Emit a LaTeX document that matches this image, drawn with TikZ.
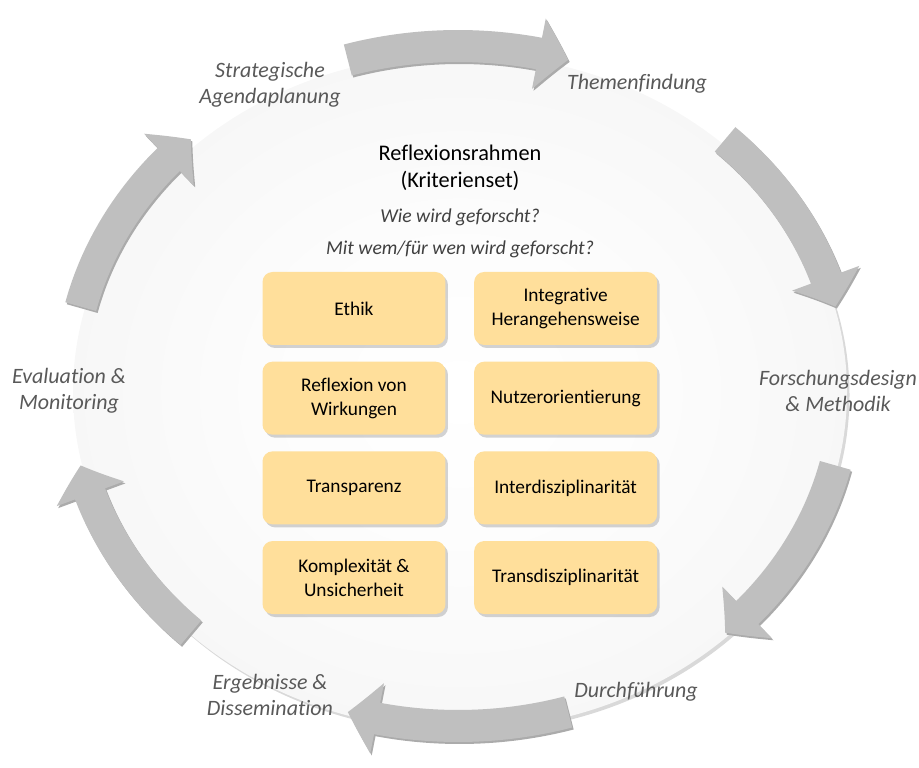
\documentclass[tikz,border=0pt]{standalone}
\usepackage{fontspec}
\setmainfont{Carlito}[Ligatures=NoCommon]
\usepackage{tikz}
\usepackage{xcolor}
\usetikzlibrary{arrows.meta}
\usetikzlibrary{bending}
\usetikzlibrary{positioning}
\usetikzlibrary{shadows}

\definecolor{critfill}{HTML}{FFDF9B}
\definecolor{ringgray}{HTML}{BFBFBF}
\definecolor{ringshade}{HTML}{ABABAB}
\definecolor{phasegray}{HTML}{595959}
\definecolor{askgray}{HTML}{404040}

\pgfdeclareradialshading{discfade}{\pgfpoint{0bp}{0bp}}{color(0bp)=(white); color(12bp)=(black!1); color(50bp)=(black!7)}

\begin{document}
\begin{tikzpicture}[x=0.02cm,y=0.02cm,
    critbox/.style={fill=critfill, rounded corners=0.2cm,
      minimum width=3.66cm, minimum height=1.46cm, inner sep=2pt,
      align=center, font=\fontsize{11}{13.6}\selectfont,
      drop shadow={opacity=0.35, shadow xshift=0.05cm, shadow yshift=-0.06cm}},
    phase/.style={text=phasegray, align=center,
      font=\fontsize{12.5}{14.5}\selectfont\itshape},
    ask/.style={text=askgray, font=\fontsize{11.2}{13}\selectfont\itshape},
    cyclearrow/.style={draw=ringgray, line width=0.64cm,
      -{Triangle[width=1.4cm, length=0.6cm, bend]}}]
  \useasboundingbox (0,0) rectangle (919,767);

  \coordinate (mid) at (460,375);
  \shade[shading=discfade,
    drop shadow={opacity=0.3, shadow xshift=0.05cm, shadow yshift=-0.06cm}]
    (mid) ellipse [x radius=387, y radius=338];

  \coordinate (hub) at (458,381);
  \foreach \a in {90,30,-30,-90,-150,150} {
    \draw[cyclearrow, draw=ringshade] ([shift={(1.5,-2)}]hub) ++(\a+16.5:388 and 340)
      arc[start angle=\a+16.5, end angle=\a-16.5, x radius=388, y radius=340];
    \draw[cyclearrow] (hub) ++(\a+16.5:388 and 340)
      arc[start angle=\a+16.5, end angle=\a-16.5, x radius=388, y radius=340];
  }

  \node (strat) [phase] at (270,682) {Strategische\\Agendaplanung};
  \node (themen) [phase] at (637,683) {Themenfindung};
  \node (design) [phase] at (838,376) {Forschungsdesign\\\& Methodik};
  \node (durch) [phase] at (636,75) {Durchführung};
  \node (ergeb) [phase] at (270,72) {Ergebnisse \&\\Dissemination};
  \node (evalu) [phase] at (69,376) {Evaluation \&\\Monitoring};

  \node (frame) [align=center, font=\fontsize{12.7}{15.4}\selectfont]
    at (460,599) {Reflexionsrahmen\\(Kriterienset)};
  \node (how) [ask] at (460,550) {Wie wird geforscht?};
  \node (whom) [ask] at (460,518) {Mit wem/für wen wird geforscht?};

  \node (ethik) [critbox] at (354,458.5) {Ethik};
  \node (integ) [critbox, right=0.56cm of ethik] {Integrative\\Herangehensweise};
  \node (reflex) [critbox, below=0.32cm of ethik] {Reflexion von\\Wirkungen};
  \node (nutzer) [critbox, right=0.56cm of reflex] {Nutzerorientierung};
  \node (transp) [critbox, below=0.32cm of reflex] {Transparenz};
  \node (inter) [critbox, right=0.56cm of transp] {Interdisziplinarität};
  \node (komplex) [critbox, below=0.32cm of transp] {Komplexität \&\\Unsicherheit};
  \node (trans) [critbox, right=0.56cm of komplex] {Transdisziplinarität};
\end{tikzpicture}
\end{document}
